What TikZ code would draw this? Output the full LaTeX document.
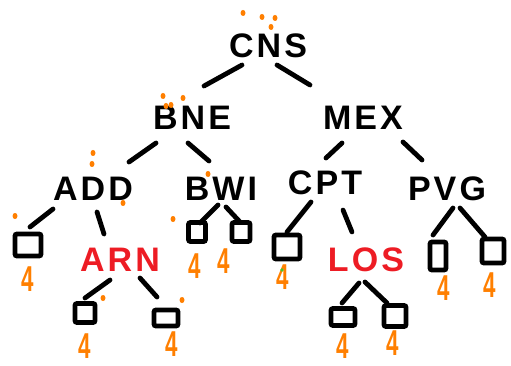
\documentclass[tikz,border=0pt]{standalone}
\usepackage{fontspec}
\setmainfont{Liberation Sans}
\definecolor{numorange}{HTML}{FF7F00}
\definecolor{redkey}{HTML}{ED1C24}
\definecolor{dotgreen}{HTML}{4CC42A}
\begin{document}
\begin{tikzpicture}[x=1pt,y=-1pt,
  lbl/.style={font=\fontsize{34}{34}\selectfont\bfseries\addfontfeature{LetterSpace=9}, inner sep=0pt, text depth=0pt},
  redlbl/.style={lbl, text=redkey},
  leaf/.style={draw, line width=4.8pt, rounded corners=2pt, inner sep=0pt},
  four/.style={text=numorange, font=\fontsize{36}{36}\selectfont\bfseries, xscale=0.62, inner sep=0pt, text depth=0pt},
  edge/.style={line width=4.8pt, line cap=round},
  dot/.style={fill=numorange}]
\useasboundingbox (0,0) rectangle (511,366);
% internal nodes
\node[lbl] (CNS) at (268,46) {CNS};
\node[lbl] (BNE) at (192,118) {BNE};
\node[lbl] (MEX) at (363,118) {MEX};
\node[lbl] (ADD) at (93,189) {ADD};
\node[lbl] (BWI) at (221,189) {BWI};
\node[lbl] (CPT) at (325,183) {CPT};
\node[lbl] (PVG) at (447,189) {PVG};
\node[redlbl] (ARN) at (120,260) {ARN};
\node[redlbl] (LOS) at (366,260) {LOS};
% leaves
\node[leaf, minimum width=26pt, minimum height=22pt] (L1) at (28,245) {};
\node[leaf, minimum width=17pt, minimum height=19pt] (B1) at (197,232) {};
\node[leaf, minimum width=18pt, minimum height=19pt] (B2) at (241,232) {};
\node[leaf, minimum width=20pt, minimum height=19pt] (A1) at (85,313) {};
\node[leaf, minimum width=24pt, minimum height=16pt] (A2) at (166,318) {};
\node[leaf, minimum width=26pt, minimum height=24pt] (C1) at (287,247) {};
\node[leaf, minimum width=24pt, minimum height=17pt] (S1) at (343,317) {};
\node[leaf, minimum width=22pt, minimum height=21pt] (S2) at (395,316) {};
\node[leaf, minimum width=16pt, minimum height=28pt] (P1) at (438,256) {};
\node[leaf, minimum width=22pt, minimum height=24pt] (P2) at (493,251) {};
% labels 4
\node[four] (n1) at (28,279) {4};
\node[four] (n2) at (195,266) {4};
\node[four] (n3) at (224,261) {4};
\node[four] (n4) at (85,346) {4};
\node[four] (n5) at (172,344) {4};
\node[four] (n6) at (283,277) {4};
\node[four] (n7) at (343,346) {4};
\node[four] (n8) at (393,343) {4};
\node[four] (n9) at (444,288) {4};
\node[four] (n10) at (490,285) {4};
% connectors
\draw[edge] ([shift={(-26,19)}]CNS.center) -- ([shift={(12,-32)}]BNE.center);
\draw[edge] ([shift={(9,19)}]CNS.center) -- ([shift={(-53,-33)}]MEX.center);
\draw[edge] ([shift={(-36,25)}]BNE.center) -- ([shift={(36,-27)}]ADD.center);
\draw[edge] ([shift={(-4,25)}]BNE.center) -- ([shift={(-12,-28)}]BWI.center);
\draw[edge] ([shift={(-21,25)}]MEX.center) -- ([shift={(1,-25)}]CPT.center);
\draw[edge] ([shift={(40,24)}]MEX.center) -- ([shift={(-25,-29)}]PVG.center);
\draw[edge] ([shift={(-40,20)}]ADD.center) -- ([shift={(2,-18)}]L1.center);
\draw[edge] ([shift={(4,23)}]ADD.center) -- ([shift={(-16,-26)}]ARN.center);
\draw[edge] ([shift={(-3,16)}]BWI.center) -- ([shift={(3,-9)}]B1.center);
\draw[edge] ([shift={(5,18)}]BWI.center) -- ([shift={(-1,-10)}]B2.center);
\draw[edge] ([shift={(-10,20)}]ARN.center) -- ([shift={(0,-15)}]A1.center);
\draw[edge] ([shift={(20,18)}]ARN.center) -- ([shift={(-9,-21)}]A2.center);
\draw[edge] ([shift={(-14,19)}]CPT.center) -- ([shift={(0,-15)}]C1.center);
\draw[edge] ([shift={(18,27)}]CPT.center) -- ([shift={(-14,-28)}]LOS.center);
\draw[edge] ([shift={(6,19)}]PVG.center) -- ([shift={(-5,-21)}]P1.center);
\draw[edge] ([shift={(13,19)}]PVG.center) -- ([shift={(-8,-14)}]P2.center);
\draw[edge] ([shift={(-7,23)}]LOS.center) -- ([shift={(-1,-14)}]S1.center);
\draw[edge] ([shift={(-1,22)}]LOS.center) -- ([shift={(-8,-13)}]S2.center);
% stray dots
\foreach \p in {(243,13),(262,17),(275,18),(271,27),(163,96),(183,98),(166,106),(171,105),(93,153),(92,164),(208,174),(15,216),(123,203),(173,219),(103,298),(182,300)}
  \fill[dot] \p ellipse (2.5 and 3);
\fill[dotgreen] (282,270) circle (1.8);
\end{tikzpicture}
\end{document}
